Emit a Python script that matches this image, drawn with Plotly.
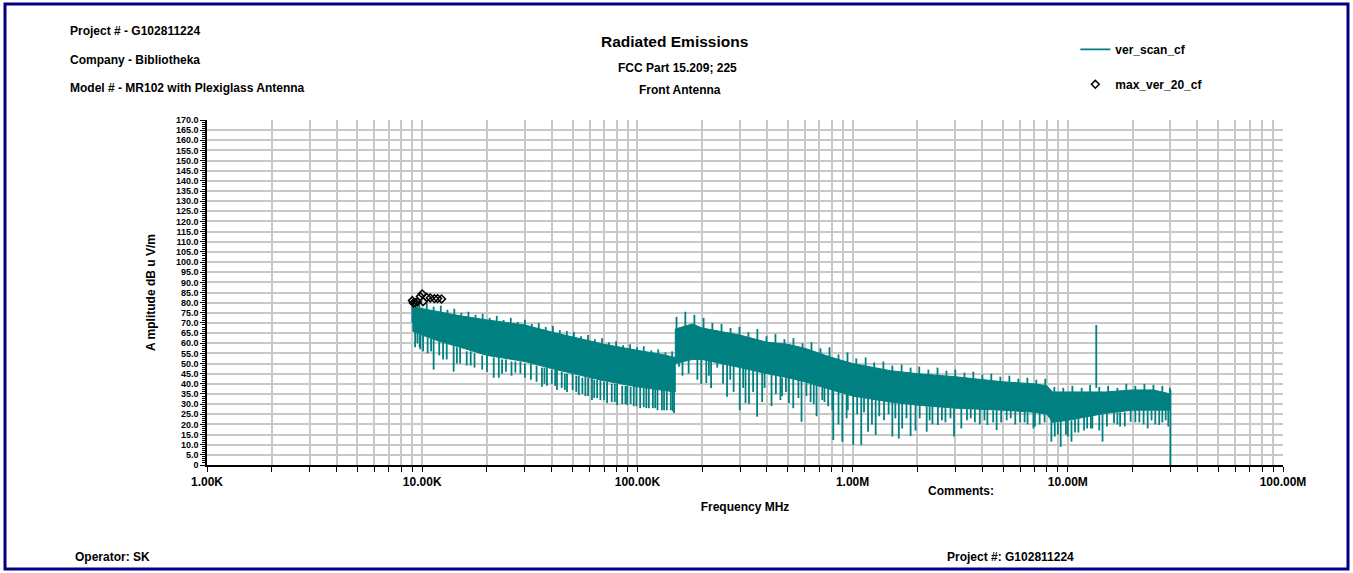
import plotly.graph_objects as go

# ---------------- data (frequency in MHz, amplitude in dB uV/m) ----------------
# dense scan body: inner upper edge and lower body edge
band_freq = [0.009, 0.010, 0.012, 0.015, 0.020, 0.030, 0.040, 0.050, 0.070, 0.100, 0.130, 0.150,
             0.150, 0.180, 0.200, 0.300, 0.400, 0.500, 0.600, 0.800, 1.0, 1.5, 2.0, 3.0, 5.0,
             7.0, 8.0, 8.5, 10.0, 15.0, 20.0, 25.0, 30.0]
band_peak = [78.0, 77.0, 75.5, 73.5, 71.5, 69.0, 65.5, 63.0, 59.5, 56.5, 54.5, 53.0,
             67.0, 69.5, 67.5, 64.0, 60.5, 59.5, 57.5, 53.0, 50.0, 46.5, 45.0, 43.5, 41.0,
             40.0, 39.0, 36.0, 36.0, 36.0, 37.0, 37.0, 35.0]
band_floor = [66.0, 64.0, 61.0, 58.0, 54.0, 51.0, 47.5, 45.0, 41.5, 38.5, 37.0, 36.0,
              50.0, 52.0, 52.0, 48.0, 45.0, 43.0, 41.0, 37.0, 34.0, 31.0, 29.5, 28.0, 27.0,
              26.0, 25.0, 21.0, 22.0, 25.5, 27.0, 27.0, 27.0]

# top-edge needles of the scan (read peaks along the upper envelope)
peak_freq = [0.0090, 0.0097, 0.0105, 0.0113, 0.0122, 0.0131, 0.0141, 0.0152, 0.0164, 0.0177,
             0.0191, 0.0206, 0.0222, 0.0239, 0.0258, 0.0278, 0.0300, 0.0323, 0.0348, 0.0375,
             0.0405, 0.0436, 0.0470, 0.0507, 0.0547, 0.0589, 0.0635, 0.0685, 0.0738, 0.0796,
             0.0858, 0.0925, 0.0997, 0.107, 0.116, 0.125, 0.135, 0.145,
             0.152, 0.167, 0.184, 0.203, 0.223, 0.246, 0.271, 0.298, 0.328, 0.361, 0.398,
             0.438, 0.482, 0.531, 0.585, 0.644, 0.709, 0.781, 0.860, 0.947, 1.04, 1.15, 1.26,
             1.39, 1.53, 1.69, 1.86, 2.04, 2.25, 2.48, 2.73, 3.00, 3.31, 3.64, 4.01, 4.41,
             4.86, 5.35, 5.89, 6.49, 7.14, 7.86, 8.66, 9.53, 10.5, 11.6, 12.7, 14.0, 15.4,
             17.0, 18.7, 20.6, 22.7, 25.0, 27.5, 29.8]
peak_top = [80.5, 79.0, 80.0, 78.0, 78.5, 76.5, 77.0, 75.0, 75.5, 74.0,
            74.5, 72.5, 73.5, 71.5, 72.5, 70.5, 71.5, 69.5, 70.0, 68.0,
            68.5, 66.5, 66.0, 65.5, 63.5, 64.0, 62.0, 62.5, 60.5, 61.0,
            59.0, 59.5, 58.0, 58.5, 56.5, 57.0, 55.5, 56.0,
            73.0, 75.5, 74.0, 72.5, 70.0, 69.5, 67.5, 68.0, 65.5, 67.0, 63.5,
            64.5, 62.0, 62.5, 60.0, 60.5, 57.5, 58.0, 54.5, 55.5, 52.5, 53.0, 50.5,
            51.0, 49.0, 49.5, 48.0, 48.5, 47.0, 48.0, 46.5, 47.0, 45.5, 46.0, 44.5, 45.0,
            43.5, 44.0, 42.5, 43.0, 42.0, 42.5, 38.5, 38.0, 39.0, 38.0, 39.5, 38.5, 39.0,
            38.0, 40.0, 39.0, 40.0, 39.5, 39.0, 38.0]
peak_base = [70.0, 70.0, 70.0, 68.0, 68.0, 66.0, 66.0, 64.0, 64.0, 63.0,
             62.0, 61.0, 61.0, 60.0, 60.0, 59.0, 59.0, 58.0, 57.0, 56.0,
             56.0, 55.0, 54.0, 53.0, 52.0, 52.0, 51.0, 50.0, 49.0, 49.0,
             48.0, 47.0, 47.0, 46.0, 46.0, 45.0, 45.0, 44.0,
             60.0, 62.0, 62.0, 61.0, 60.0, 59.0, 58.0, 57.0, 56.0, 55.0, 54.0,
             53.0, 52.0, 51.0, 50.0, 49.0, 48.0, 47.0, 45.0, 44.0, 43.0, 42.0, 41.0,
             40.0, 39.0, 39.0, 38.0, 38.0, 37.0, 37.0, 36.0, 36.0, 35.0, 35.0, 34.0, 34.0,
             34.0, 33.0, 33.0, 33.0, 32.0, 32.0, 30.0, 30.0, 30.0, 30.0, 31.0, 31.0, 31.0,
             31.0, 32.0, 32.0, 32.0, 32.0, 32.0, 31.0]

# downward needles of the scan (read dips below the body)
dip_freq = [0.00927, 0.0095, 0.00973, 0.0101, 0.0106, 0.0113, 0.0120, 0.0130, 0.0140, 0.0150,
            0.0161, 0.0175, 0.0190, 0.0215, 0.0227, 0.0245, 0.0271, 0.0286, 0.0320, 0.0340,
            0.0360, 0.0380, 0.0400, 0.0423, 0.0445, 0.0471, 0.0500, 0.0534, 0.0573, 0.0590,
            0.0615, 0.0650, 0.0673, 0.0723, 0.0760, 0.0805, 0.0850, 0.0896, 0.0930, 0.0962,
            0.103, 0.107, 0.113, 0.118, 0.124, 0.130, 0.137, 0.143, 0.148,
            0.156, 0.173, 0.190, 0.209, 0.220, 0.235, 0.261, 0.280, 0.299, 0.318, 0.330,
            0.360, 0.380, 0.420, 0.462, 0.470, 0.506, 0.530, 0.579, 0.638, 0.680, 0.723,
            0.805, 0.813, 0.860, 0.896, 0.938, 1.007, 1.05, 1.097, 1.18, 1.23, 1.28, 1.40,
            1.53, 1.64, 1.70, 1.86, 1.96, 2.21, 2.35, 2.49, 2.70, 2.96, 3.20, 3.54, 3.90,
            4.23, 4.50, 4.67, 5.43, 6.00, 6.50, 6.92, 7.03, 8.39, 8.70, 9.27, 9.80, 10.4,
            11.2, 11.9, 12.8, 13.0, 14.5, 16.4, 17.5, 19.6, 21.5, 23.5, 26.6, 28.5, 30.0]
dip_top = [66.0, 66.0, 65.0, 64.0, 63.0, 63.0, 61.0, 60.0, 59.0, 58.0,
           56.0, 55.0, 54.0, 53.0, 53.0, 52.0, 51.0, 51.0, 50.0, 49.0,
           48.0, 48.0, 47.0, 47.0, 46.0, 45.0, 45.0, 44.0, 44.0, 43.0,
           43.0, 42.0, 42.0, 41.0, 40.0, 40.0, 39.0, 39.0, 38.5, 39.0,
           38.5, 38.0, 38.0, 37.5, 37.5, 37.0, 37.0, 36.5, 36.5,
           55.0, 52.0, 52.0, 52.0, 52.0, 52.0, 50.0, 49.0, 48.0, 48.0, 47.0,
           46.0, 46.0, 45.0, 44.0, 43.0, 43.0, 43.0, 42.0, 41.0, 40.0, 40.0,
           37.0, 37.0, 36.0, 35.0, 35.0, 34.0, 34.0, 34.0, 33.0, 33.0, 33.0, 32.0,
           31.0, 31.0, 31.0, 30.0, 29.5, 29.0, 29.0, 29.0, 28.0, 28.0, 28.0, 28.0, 27.5,
           27.5, 27.0, 27.0, 27.0, 26.5, 26.0, 26.0, 26.0, 25.0, 21.0, 22.0, 22.0, 22.0,
           23.0, 24.0, 25.0, 25.0, 25.5, 26.0, 26.0, 27.0, 27.0, 27.0, 27.0, 27.0, 37.0]
dip_bottom = [58.0, 60.0, 58.0, 56.0, 55.0, 47.0, 54.0, 52.0, 46.0, 50.0,
              49.0, 48.0, 47.0, 43.0, 43.0, 46.0, 45.5, 45.0, 42.0, 41.0,
              38.5, 39.0, 40.0, 37.0, 38.0, 36.0, 37.0, 34.5, 34.0, 34.0,
              32.0, 33.0, 32.0, 30.5, 31.0, 29.5, 30.0, 29.5, 30.0, 29.0,
              28.0, 28.5, 28.0, 28.0, 27.0, 27.0, 27.0, 27.0, 25.6,
              48.4, 45.0, 42.0, 40.4, 38.0, 48.0, 33.6, 36.0, 27.0, 30.5, 30.0,
              23.8, 31.0, 29.0, 32.0, 34.0, 30.5, 28.0, 21.3, 31.0, 24.0, 32.0,
              27.0, 12.3, 20.0, 11.5, 23.0, 9.9, 25.0, 9.9, 16.4, 20.0, 14.8, 22.0,
              14.0, 13.0, 18.0, 14.3, 17.0, 16.4, 20.0, 19.7, 21.0, 14.0, 18.0, 23.0, 20.0,
              19.7, 21.0, 17.2, 23.0, 21.0, 20.0, 18.0, 18.9, 11.5, 14.0, 9.0, 15.0, 11.5,
              16.0, 17.0, 18.0, 18.0, 11.5, 20.6, 19.0, 21.3, 21.0, 18.0, 19.7, 22.0, 0.0]

# shallower dips that make the ragged lower edge of the body
fringe_freq = [0.0098, 0.0110, 0.0125, 0.0145, 0.0168, 0.0200, 0.0235, 0.0260, 0.0300, 0.0370,
               0.0415, 0.0460, 0.0520, 0.0555, 0.0630, 0.0700, 0.0785, 0.0880, 0.0990, 0.110,
               0.121, 0.133, 0.146,
               0.162, 0.198, 0.215, 0.250, 0.270, 0.310, 0.345, 0.390, 0.440, 0.490, 0.560,
               0.610, 0.660, 0.740, 0.770, 0.950, 1.13, 1.33, 1.47, 1.58, 1.78, 2.05, 2.28,
               2.60, 2.85, 3.40, 3.70, 4.10, 4.90, 5.20, 5.70, 6.30, 7.40, 7.80, 9.00, 10.0,
               10.8, 12.3, 14.0, 15.2, 17.0, 18.4, 20.6, 22.5, 24.5, 25.5, 27.5, 29.3]
fringe_top = [64.0, 63.0, 61.0, 58.0, 56.0, 54.0, 52.0, 51.0, 50.0, 48.0,
              47.0, 45.0, 44.0, 43.0, 42.0, 41.0, 40.0, 39.0, 38.5, 38.0,
              37.5, 37.0, 36.5,
              52.0, 52.0, 52.0, 51.0, 50.0, 48.0, 47.0, 46.0, 44.0, 43.0, 42.0,
              41.0, 40.0, 39.0, 38.0, 35.0, 33.0, 32.0, 31.0, 31.0, 30.0, 29.5, 29.0,
              28.5, 28.0, 28.0, 27.5, 27.5, 27.0, 27.0, 26.5, 26.5, 26.0, 25.5, 21.0, 22.0,
              23.0, 24.0, 25.0, 25.5, 26.0, 26.0, 27.0, 27.0, 27.0, 27.0, 27.0, 27.0]
fringe_bottom = [57.0, 56.0, 52.0, 50.0, 49.0, 46.0, 45.0, 44.0, 43.0, 40.0,
                 39.0, 37.0, 36.0, 35.0, 33.0, 32.0, 31.0, 30.0, 29.0, 28.0,
                 28.0, 27.0, 26.5,
                 44.0, 40.0, 44.0, 40.0, 42.0, 38.0, 36.0, 38.0, 35.0, 36.0, 33.0,
                 34.0, 30.0, 31.0, 29.0, 27.0, 26.0, 24.0, 25.0, 23.0, 23.0, 23.0, 22.0,
                 22.0, 23.0, 22.0, 21.0, 22.0, 21.0, 22.0, 20.0, 21.0, 20.0, 21.0, 15.0, 14.0,
                 16.0, 18.0, 17.0, 19.0, 20.0, 19.0, 21.0, 20.0, 22.0, 20.0, 21.0, 19.0]

# single strong emission at 13.56 MHz
spike_freq = [13.56]
spike_base = [38.0]
spike_top = [69.0]

# max_ver_20_cf markers
max_freq = [0.0090, 0.0091, 0.0093, 0.0095, 0.0098, 0.0100, 0.0101, 0.0105, 0.0109, 0.0114,
            0.0118, 0.0123]
max_amp = [81.0, 79.8, 80.0, 80.3, 83.0, 84.3, 80.5, 82.5, 82.3, 82.0, 82.0, 81.8]

# axis ticks
x_decades = [0.001, 0.01, 0.1, 1.0, 10.0, 100.0]
x_decade_labels = ["1.00K", "10.00K", "100.00K", "1.00M", "10.00M", "100.00M"]
x_multipliers = [1, 2, 3, 4, 5, 6, 7, 8, 9]
y_tick_vals = [0, 5, 10, 15, 20, 25, 30, 35, 40, 45, 50, 55, 60, 65, 70, 75, 80, 85, 90, 95,
               100, 105, 110, 115, 120, 125, 130, 135, 140, 145, 150, 155, 160, 165, 170]
y_tick_text = ["0", "5.0", "10.0", "15.0", "20.0", "25.0", "30.0", "35.0", "40.0", "45.0",
               "50.0", "55.0", "60.0", "65.0", "70.0", "75.0", "80.0", "85.0", "90.0", "95.0",
               "100.0", "105.0", "110.0", "115.0", "120.0", "125.0", "130.0", "135.0", "140.0",
               "145.0", "150.0", "155.0", "160.0", "165.0", "170.0"]

# ---------------- build ----------------
TEAL = "#008080"
FONT = "Liberation Sans, Arial, sans-serif"

x_tick_vals = []
x_tick_text = []
for d, lab in zip(x_decades, x_decade_labels):
    for m in (x_multipliers if d < 100 else [1]):
        x_tick_vals.append(d * m)
        x_tick_text.append(lab if m == 1 else "")

nx, ny = [], []
for fl, al, bl in ((peak_freq, peak_base, peak_top), (dip_freq, dip_top, dip_bottom),
                   (fringe_freq, fringe_top, fringe_bottom), (spike_freq, spike_base, spike_top)):
    for f, a, b in zip(fl, al, bl):
        nx += [f, f, None]
        ny += [a, b, None]

fig = go.Figure()
fig.add_trace(go.Scatter(
    x=band_freq + band_freq[::-1], y=band_peak + band_floor[::-1],
    mode="lines", fill="toself", fillcolor=TEAL, line=dict(color=TEAL, width=1),
    name="ver_scan_cf", legendgroup="scan", showlegend=False, hoverinfo="skip"))
fig.add_trace(go.Scatter(
    x=nx, y=ny, mode="lines", line=dict(color=TEAL, width=1.8),
    name="ver_scan_cf", legendgroup="scan", showlegend=True))
fig.add_trace(go.Scatter(
    x=max_freq, y=max_amp, mode="markers", name="max_ver_20_cf", legendgroup="max",
    marker=dict(symbol="diamond-open", size=6, color="black", line=dict(width=1.5, color="black"))))

fig.update_layout(
    width=1353, height=573,
    margin=dict(l=207, r=70, t=120, b=108),
    paper_bgcolor="white", plot_bgcolor="white",
    font=dict(family=FONT, size=12, color="black"),
    xaxis=dict(type="log", range=[-3, 2], tickmode="array", tickvals=x_tick_vals,
               ticktext=x_tick_text, ticks="outside", ticklen=5, tickcolor="black",
               showgrid=True, gridcolor="#c8c8c8", gridwidth=1.5,
               showline=True, linecolor="black", linewidth=2, zeroline=False,
               tickfont=dict(family=FONT, size=12, color="black", weight="bold"),
               title=dict(text="<b>Frequency MHz</b>", font=dict(family=FONT, size=12), standoff=14)),
    xaxis2=dict(type="log", range=[-3, 2], overlaying="x", anchor="y", side="bottom",
                tickmode="array", tickvals=x_tick_vals, ticks="inside", ticklen=4,
                tickcolor="black", showticklabels=False, showgrid=False, showline=False),
    yaxis=dict(range=[0, 170], tickmode="array", tickvals=y_tick_vals, ticktext=y_tick_text,
               ticks="outside", ticklen=5, tickcolor="black",
               minor=dict(dtick=1, tick0=0, ticks="outside", ticklen=3, tickcolor="black", showgrid=False),
               showgrid=True, gridcolor="#c8c8c8", gridwidth=1.5,
               showline=True, linecolor="black", linewidth=1.5, zeroline=False,
               tickfont=dict(family=FONT, size=9, color="black", weight="bold"),
               title=dict(text="<b>A mplitude dB u V/m</b>", font=dict(family=FONT, size=12), standoff=18)),
    yaxis2=dict(range=[0, 170], overlaying="y", anchor="x", side="left",
                tickmode="array", tickvals=y_tick_vals, ticks="inside", ticklen=5,
                tickcolor="black", showticklabels=False, showgrid=False, showline=False,
                minor=dict(dtick=1, tick0=0, ticks="inside", ticklen=3, tickcolor="black", showgrid=False)),
    legend=dict(x=0.807, y=1.247, xanchor="left", yanchor="top", bgcolor="rgba(0,0,0,0)",
                font=dict(family=FONT, size=12, color="black", weight="bold"),
                tracegroupgap=16, itemwidth=30),
    showlegend=True,
)

def note(text, px, py, size=12, anchor="left"):
    fig.add_annotation(text=text, xref="paper", yref="paper",
                       x=(px - 207) / 1076, y=(465 - py) / 345,
                       xanchor=anchor, yanchor="middle", showarrow=False,
                       font=dict(family=FONT, size=size, color="black", weight="bold"))

note("Project # - G102811224", 68, 31)
note("Company - Bibliotheka", 68, 60)
note("Model # - MR102 with Plexiglass Antenna", 68, 88)
note("Radiated Emissions", 674, 42, size=15.5, anchor="center")
note("FCC Part 15.209; 225", 677, 68, anchor="center")
note("Front Antenna", 680, 90, anchor="center")
note("Comments:", 926, 491)
note("Operator: SK", 73, 557)
note("Project #: G102811224", 945, 557)

# outer navy frame
fig.add_shape(type="rect", xref="paper", yref="paper",
              x0=(5 - 207) / 1076, x1=(1348 - 207) / 1076,
              y0=(465 - 569) / 345, y1=(465 - 4) / 345,
              line=dict(color="#000080", width=3), fillcolor="rgba(0,0,0,0)", layer="above")

fig.write_html("out.html", config={"displayModeBar": False},
               post_script="document.body.style.margin='0';document.body.style.overflow='hidden';")
